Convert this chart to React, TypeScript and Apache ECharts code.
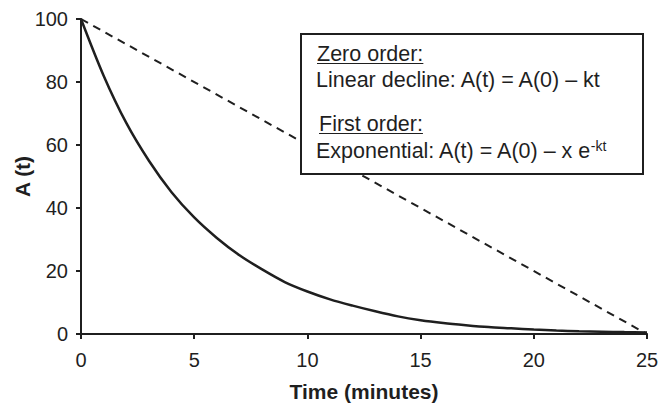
import React, { useEffect, useRef } from "react";
import * as echarts from "echarts";

// Time points (minutes)
const times = [0, 1, 2, 3, 4, 5, 6, 7, 8, 9, 10, 11, 12, 13, 14, 15, 16, 17, 18, 19, 20, 21, 22, 23, 24, 25];
// First-order (exponential) decay of A(t)
const firstOrder = [100, 82, 67, 55, 45, 37, 30.5, 25, 20.5, 16.5, 13.5, 11, 9, 7.2, 5.6, 4.4, 3.5, 2.8, 2.2, 1.8, 1.4, 1.1, 0.9, 0.75, 0.6, 0.5];
// Zero-order (linear) decline: end points
const zeroOrderTimes = [0, 25];
const zeroOrder = [100, 0];

const xTicks = [0, 5, 10, 15, 20, 25];
const yTicks = [0, 20, 40, 60, 80, 100];

const FONT = "Liberation Sans, Arial, Helvetica, sans-serif";
const INK = "#1f1f1f";

function textWidth(t: string, size: number): number {
  const c = document.createElement("canvas").getContext("2d");
  if (!c) return t.length * size * 0.5;
  c.font = `${size}px ${FONT}`;
  return c.measureText(t).width;
}

// width of a rendered SVG <text> node with the given content, if present
function renderedWidth(root: HTMLElement, content: string): number | null {
  const nodes = root.querySelectorAll("text");
  for (const n of Array.from(nodes)) {
    if (n.textContent === content) {
      try {
        return (n as SVGTextElement).getComputedTextLength();
      } catch {
        return null;
      }
    }
  }
  return null;
}

export default function App() {
  const ref = useRef<HTMLDivElement>(null);

  useEffect(() => {
    if (!ref.current) return;
    const chart = echarts.init(ref.current, undefined, { renderer: "svg" });

    const fs = 21.5;
    const boxX = 301;
    const boxY = 34;
    const tx = 316;
    const zeroHead = "Zero order:";
    const firstHead = "First order:";
    const expMain = "Exponential: A(t) = A(0) \u2013 x e";
    const headW1 = textWidth(zeroHead, fs);
    const headW2 = textWidth(firstHead, fs);
    const expW = textWidth(expMain, fs);

    chart.setOption({
      animation: false,
      backgroundColor: "#ffffff",
      grid: {
        left: 81,
        right: 15,
        top: 19,
        bottom: 70,
        containLabel: false,
        outerBoundsMode: "none",
      },
      xAxis: {
        type: "value",
        min: 0,
        max: 25,
        interval: 5,
        name: "Time (minutes)",
        nameLocation: "middle",
        nameGap: 47,
        nameTextStyle: { fontFamily: FONT, fontSize: 21, fontWeight: "bold", color: INK },
        axisLine: { lineStyle: { color: INK, width: 2 } },
        axisTick: { show: true, length: 5, lineStyle: { color: INK, width: 2 } },
        axisLabel: {
          fontFamily: FONT,
          fontSize: 20,
          color: INK,
          margin: 16,
          formatter: (v: number) => (xTicks.includes(v) ? String(v) : ""),
        },
        splitLine: { show: false },
      },
      yAxis: {
        type: "value",
        min: 0,
        max: 100,
        interval: 20,
        name: "A (t)",
        nameLocation: "middle",
        nameGap: 48,
        nameRotate: 90,
        nameMoveOverlap: false,
        nameTextStyle: { fontFamily: FONT, fontSize: 21, fontWeight: "bold", color: INK },
        axisLine: { show: true, lineStyle: { color: INK, width: 2 } },
        axisTick: { show: true, length: 5, lineStyle: { color: INK, width: 2 } },
        axisLabel: {
          fontFamily: FONT,
          fontSize: 20,
          color: INK,
          margin: 13,
          formatter: (v: number) => (yTicks.includes(v) ? String(v) : ""),
        },
        splitLine: { show: false },
      },
      series: [
        {
          type: "line",
          data: zeroOrderTimes.map((t, i) => [t, zeroOrder[i]]),
          showSymbol: false,
          lineStyle: { color: INK, width: 2, type: [8, 6] },
          z: 2,
        },
        {
          type: "line",
          data: times.map((t, i) => [t, firstOrder[i]]),
          smooth: 0.3,
          showSymbol: false,
          lineStyle: { color: INK, width: 2.5 },
          z: 3,
        },
      ],
      graphic: [
        {
          id: "box",
          type: "rect",
          shape: { x: boxX, y: boxY, width: 342, height: 140 },
          style: { fill: "#ffffff", stroke: INK, lineWidth: 2 },
          z: 10,
        },
        {
          id: "zeroHead",
          type: "text",
          x: tx + 1,
          y: 43,
          style: { text: zeroHead, fontFamily: FONT, fontSize: fs, fill: INK },
          z: 11,
        },
        {
          id: "zeroUnder",
          type: "line",
          shape: { x1: tx + 1, y1: 63.5, x2: tx + 1 + headW1, y2: 63.5 },
          style: { stroke: INK, lineWidth: 1.2 },
          z: 11,
        },
        {
          id: "zeroEq",
          type: "text",
          x: tx,
          y: 69,
          style: { text: "Linear decline: A(t) = A(0) \u2013 kt", fontFamily: FONT, fontSize: fs, fill: INK },
          z: 11,
        },
        {
          id: "firstHead",
          type: "text",
          x: tx + 3,
          y: 113,
          style: { text: firstHead, fontFamily: FONT, fontSize: fs, fill: INK },
          z: 11,
        },
        {
          id: "firstUnder",
          type: "line",
          shape: { x1: tx + 3, y1: 133.5, x2: tx + 3 + headW2, y2: 133.5 },
          style: { stroke: INK, lineWidth: 1.2 },
          z: 11,
        },
        {
          id: "firstEq",
          type: "text",
          x: tx,
          y: 140,
          style: { text: expMain, fontFamily: FONT, fontSize: fs, fill: INK },
          z: 11,
        },
        {
          id: "firstSup",
          type: "text",
          x: tx + expW,
          y: 139,
          style: { text: "-kt", fontFamily: FONT, fontSize: 14, fill: INK },
          z: 11,
        },
      ],
    });

    // place the exponent right after the rendered formula text
    const w = renderedWidth(ref.current, expMain);
    if (w && w > 0) {
      chart.setOption({ graphic: [{ id: "firstSup", x: tx + w + 0.5 }] });
    }

    return () => chart.dispose();
  }, []);

  return (
    <div
      ref={ref}
      style={{ position: "fixed", left: 0, top: 0, width: 662, height: 404 }}
    />
  );
}
